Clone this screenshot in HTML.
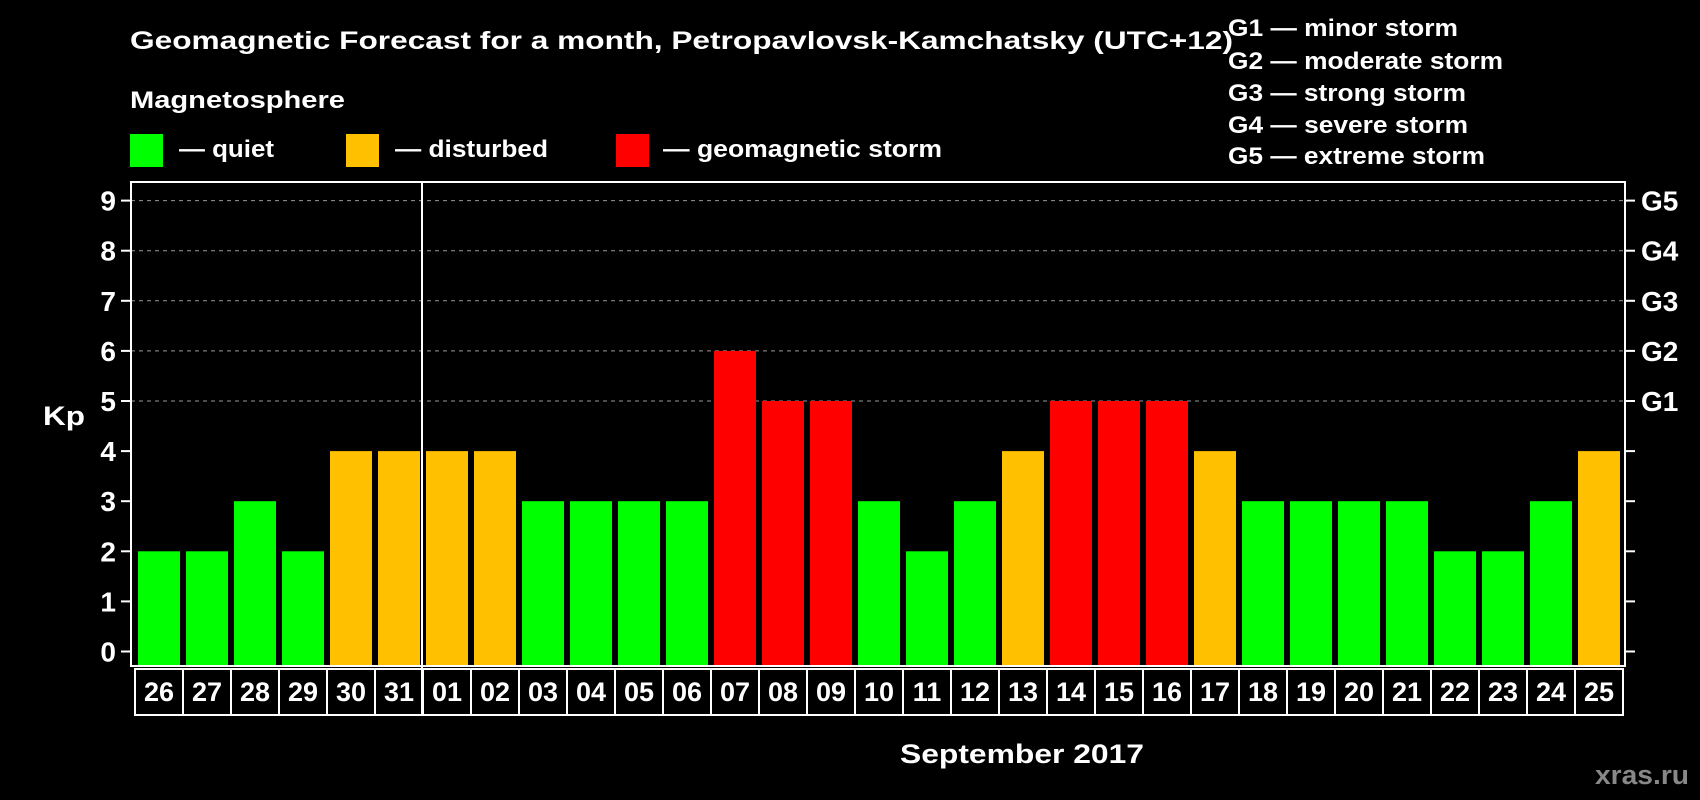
<!DOCTYPE html>
<html><head><meta charset="utf-8"><style>
html,body{margin:0;padding:0;background:#000;}
svg{display:block;font-family:"Liberation Sans",Arial,sans-serif;font-weight:bold;}
</style></head><body>
<svg width="1700" height="800" viewBox="0 0 1700 800">
<rect width="1700" height="800" fill="#000"/>
<text x="130" y="49" fill="#fff" font-size="25" textLength="1103" lengthAdjust="spacingAndGlyphs">Geomagnetic Forecast for a month, Petropavlovsk-Kamchatsky (UTC+12)</text>
<text x="130" y="108" fill="#fff" font-size="24" textLength="215" lengthAdjust="spacingAndGlyphs">Magnetosphere</text>
<g><rect x="130" y="134" width="33" height="33" fill="#00ff00"/><text x="179" y="157" fill="#fff" font-size="24" textLength="95" lengthAdjust="spacingAndGlyphs">— quiet</text></g>
<g><rect x="346" y="134" width="33" height="33" fill="#ffc000"/><text x="395" y="157" fill="#fff" font-size="24" textLength="153" lengthAdjust="spacingAndGlyphs">— disturbed</text></g>
<g><rect x="616" y="134" width="33" height="33" fill="#ff0000"/><text x="663" y="157" fill="#fff" font-size="24" textLength="279" lengthAdjust="spacingAndGlyphs">— geomagnetic storm</text></g>
<g fill="#fff" font-size="24">
<text x="1228" y="36" textLength="230" lengthAdjust="spacingAndGlyphs">G1 — minor storm</text>
<text x="1228" y="69" textLength="275" lengthAdjust="spacingAndGlyphs">G2 — moderate storm</text>
<text x="1228" y="101" textLength="238" lengthAdjust="spacingAndGlyphs">G3 — strong storm</text>
<text x="1228" y="133" textLength="240" lengthAdjust="spacingAndGlyphs">G4 — severe storm</text>
<text x="1228" y="164" textLength="257" lengthAdjust="spacingAndGlyphs">G5 — extreme storm</text>
</g>
<text x="43" y="425" fill="#fff" font-size="27" textLength="42" lengthAdjust="spacingAndGlyphs">Kp</text>
<text x="900" y="763" fill="#fff" font-size="27" textLength="244" lengthAdjust="spacingAndGlyphs">September 2017</text>
<text x="1595" y="784" fill="#888" font-size="27" textLength="94" lengthAdjust="spacingAndGlyphs">xras.ru</text>
<g id="grid"></g><g id="bars"></g><g id="axes"></g>
</svg>
<script>
const days=["26","27","28","29","30","31","01","02","03","04","05","06","07","08","09","10","11","12","13","14","15","16","17","18","19","20","21","22","23","24","25"];
const kp=[2,2,3,2,4,4,4,4,3,3,3,3,6,5,5,3,2,3,4,5,5,5,4,3,3,3,3,2,2,3,4];
const yTicks=[0,1,2,3,4,5,6,7,8,9];
const gLabels=["G1","G2","G3","G4","G5"];
const gLevels=[5,6,7,8,9];
const NS="http://www.w3.org/2000/svg";
const L=131,R=1625,T=182,B=666,X0=135,PITCH=48,BT=669,BB=715;
const y=v=>651.5-v*50.1;
const x=i=>X0+i*PITCH;
function mk(tag,attrs,parent,text){const e=document.createElementNS(NS,tag);for(const k in attrs)e.setAttribute(k,attrs[k]);if(text!==undefined)e.textContent=text;parent.appendChild(e);return e;}
const grid=document.getElementById('grid'),bars=document.getElementById('bars'),axes=document.getElementById('axes');
gLevels.forEach((v,i)=>{
 const l=mk('line',{x1:L,x2:R,y1:y(v),y2:y(v),stroke:'#999','stroke-dasharray':'4,4','stroke-width':1},grid);
 
 
});
kp.forEach((v,i)=>{
 const c=v>=5?'#ff0000':(v>=4?'#ffc000':'#00ff00');
 const r=mk('rect',{x:x(i)+3,y:y(v),width:42,height:B-1-y(v),fill:c},bars);
 
 
 const b=mk('rect',{x:x(i),y:BT,width:PITCH,height:BB-BT,fill:'none',stroke:'#fff','stroke-width':2},axes);
 
 
 const t=mk('text',{x:x(i)+PITCH/2,y:701,fill:'#fff','font-size':27,'text-anchor':'middle'},axes,days[i]);
 
 
});
const fr=mk('rect',{x:L,y:T,width:R-L,height:B-T,fill:'none',stroke:'#fff','stroke-width':2},axes);


const sep=days.indexOf("01");
const sl=mk('line',{x1:x(sep)-1,x2:x(sep)-1,y1:T,y2:BB,stroke:'#fff','stroke-width':2},axes);


yTicks.forEach(v=>{
 const a=mk('line',{x1:121,x2:L,y1:y(v),y2:y(v),stroke:'#fff','stroke-width':2},axes);
 
 
 const b=mk('line',{x1:R,x2:1635,y1:y(v),y2:y(v),stroke:'#fff','stroke-width':2},axes);
 
 
 const t=mk('text',{x:116,y:y(v)+10,fill:'#fff','font-size':28,'text-anchor':'end'},axes,String(v));
 
 
});
gLevels.forEach((v,i)=>{
 const t=mk('text',{x:1641,y:y(v)+10,fill:'#fff','font-size':28},axes,gLabels[i]);
 
 
});
</script>
</body></html>
